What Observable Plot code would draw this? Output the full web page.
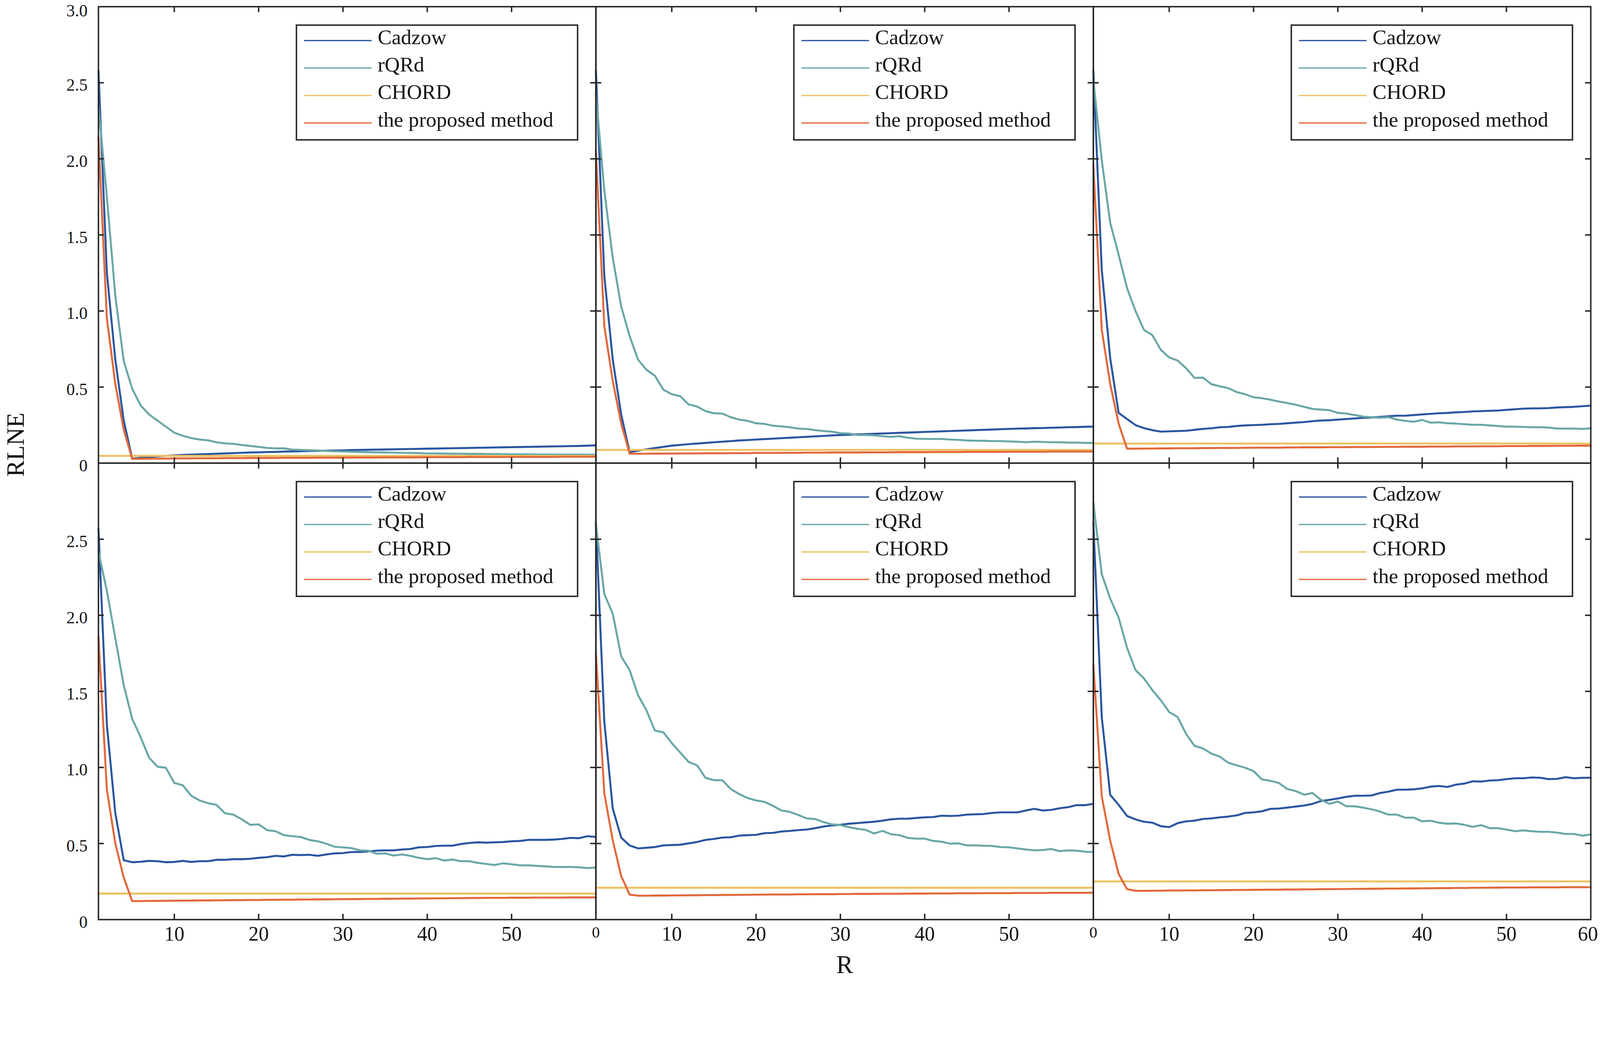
<!DOCTYPE html>
<html>
<head>
<meta charset="utf-8">
<script src="https://cdn.jsdelivr.net/npm/d3@7"></script>
<script src="https://cdn.jsdelivr.net/npm/@observablehq/plot@0.6"></script>
<style>
  html, body { margin: 0; padding: 0; background: #ffffff; overflow: hidden; }
  #chart svg { display: block; }
</style>
</head>
<body>
<div id="chart"></div>
<script>
// ---------- data ----------
const R = d3.range(1, 61);
const seriesNames = ["Cadzow", "rQRd", "CHORD", "the proposed method"];
const seriesColors = ["#2a56a0", "#6aa7a8", "#ebc163", "#e2683c"];
const panelCols = [0, 1, 2, 0, 1, 2];
const panelRows = [0, 0, 0, 1, 1, 1];
const xAxisTitle = "R";
const yAxisTitle = "RLNE";

const xTickValues = [10, 20, 30, 40, 50];
const xTickLabels = ["10", "20", "30", "40", "50"];
const xStartLabel = "0";
const xEndLabel = "60";
const yTickValues = [0, 0.5, 1, 1.5, 2, 2.5, 3];
const yTickLabels = ["0", "0.5", "1.0", "1.5", "2.0", "2.5", "3.0"];

// CHORD is flat in every panel
const chord = [0.048, 0.087, 0.129, 0.171, 0.209, 0.251];

const cadzow1 = [
  2.58, 1.25, 0.68, 0.28, 0.030, 0.035, 0.040, 0.045, 0.048, 0.051,
  0.054, 0.056, 0.058, 0.060, 0.062, 0.064, 0.066, 0.068, 0.070, 0.071,
  0.073, 0.074, 0.076, 0.077, 0.078, 0.080, 0.081, 0.082, 0.083, 0.084,
  0.086, 0.087, 0.088, 0.089, 0.090, 0.091, 0.092, 0.093, 0.094, 0.095,
  0.096, 0.097, 0.098, 0.099, 0.100, 0.101, 0.102, 0.103, 0.104, 0.105,
  0.106, 0.107, 0.108, 0.109, 0.110, 0.111, 0.112, 0.113, 0.115, 0.117];
const rqrd1 = [
  2.35, 1.75, 1.10, 0.67, 0.49, 0.38, 0.32, 0.28, 0.24, 0.20,
  0.18, 0.165, 0.155, 0.15, 0.137, 0.13, 0.127, 0.119, 0.113, 0.107,
  0.100, 0.097, 0.097, 0.089, 0.087, 0.085, 0.083, 0.080, 0.078, 0.076,
  0.075, 0.073, 0.072, 0.071, 0.070, 0.069, 0.068, 0.067, 0.066, 0.064,
  0.064, 0.063, 0.062, 0.062, 0.061, 0.061, 0.060, 0.060, 0.059, 0.058,
  0.058, 0.058, 0.057, 0.057, 0.057, 0.056, 0.056, 0.056, 0.056, 0.055];
const proposed1 = [
  2.14, 0.95, 0.52, 0.22, 0.028, 0.029, 0.029, 0.030, 0.030, 0.031,
  0.031, 0.031, 0.032, 0.032, 0.032, 0.033, 0.033, 0.033, 0.034, 0.034,
  0.034, 0.034, 0.035, 0.035, 0.035, 0.035, 0.036, 0.036, 0.036, 0.036,
  0.037, 0.037, 0.037, 0.037, 0.038, 0.038, 0.038, 0.038, 0.038, 0.039,
  0.039, 0.039, 0.039, 0.039, 0.040, 0.040, 0.040, 0.040, 0.040, 0.041,
  0.041, 0.041, 0.041, 0.041, 0.041, 0.042, 0.042, 0.042, 0.042, 0.042];

const cadzow2 = [
  2.58, 1.23, 0.68, 0.32, 0.072, 0.082, 0.091, 0.099, 0.107, 0.115,
  0.120, 0.125, 0.129, 0.133, 0.137, 0.141, 0.145, 0.149, 0.152, 0.155,
  0.158, 0.161, 0.164, 0.167, 0.170, 0.173, 0.176, 0.179, 0.182, 0.185,
  0.187, 0.189, 0.191, 0.193, 0.195, 0.197, 0.199, 0.201, 0.203, 0.205,
  0.207, 0.209, 0.211, 0.213, 0.215, 0.217, 0.219, 0.221, 0.223, 0.225,
  0.227, 0.228, 0.230, 0.231, 0.233, 0.234, 0.236, 0.237, 0.239, 0.240];
const rqrd2 = [
  2.43, 1.79, 1.35, 1.03, 0.835, 0.68, 0.614, 0.574, 0.483, 0.453,
  0.44, 0.386, 0.372, 0.342, 0.328, 0.326, 0.302, 0.286, 0.278, 0.262,
  0.258, 0.246, 0.242, 0.236, 0.227, 0.225, 0.217, 0.211, 0.207, 0.197,
  0.195, 0.185, 0.185, 0.183, 0.177, 0.173, 0.177, 0.167, 0.161, 0.159,
  0.159, 0.159, 0.155, 0.153, 0.149, 0.147, 0.147, 0.145, 0.145, 0.143,
  0.141, 0.137, 0.141, 0.139, 0.137, 0.137, 0.135, 0.135, 0.133, 0.133];
const proposed2 = [
  2.05, 0.90, 0.54, 0.26, 0.062, 0.062, 0.062, 0.063, 0.063, 0.063,
  0.064, 0.064, 0.064, 0.065, 0.065, 0.065, 0.066, 0.066, 0.066, 0.067,
  0.067, 0.067, 0.068, 0.068, 0.068, 0.069, 0.069, 0.069, 0.070, 0.070,
  0.070, 0.070, 0.071, 0.071, 0.071, 0.071, 0.072, 0.072, 0.072, 0.072,
  0.073, 0.073, 0.073, 0.073, 0.074, 0.074, 0.074, 0.074, 0.074, 0.075,
  0.075, 0.075, 0.075, 0.075, 0.076, 0.076, 0.076, 0.076, 0.076, 0.076];

const cadzow3 = [
  2.58, 1.27, 0.69, 0.33, 0.29, 0.25, 0.23, 0.217, 0.207, 0.209,
  0.211, 0.213, 0.219, 0.225, 0.229, 0.236, 0.238, 0.244, 0.248, 0.250,
  0.252, 0.256, 0.258, 0.262, 0.266, 0.270, 0.276, 0.280, 0.282, 0.286,
  0.290, 0.294, 0.298, 0.300, 0.304, 0.308, 0.312, 0.312, 0.316, 0.320,
  0.324, 0.328, 0.330, 0.334, 0.336, 0.340, 0.342, 0.344, 0.346, 0.350,
  0.354, 0.358, 0.360, 0.360, 0.362, 0.366, 0.368, 0.370, 0.374, 0.378];
const rqrd3 = [
  2.52, 1.99, 1.58, 1.37, 1.15, 1.00, 0.876, 0.841, 0.745, 0.694,
  0.674, 0.624, 0.560, 0.562, 0.519, 0.505, 0.493, 0.467, 0.453, 0.433,
  0.427, 0.417, 0.405, 0.395, 0.384, 0.370, 0.356, 0.352, 0.348, 0.330,
  0.326, 0.316, 0.306, 0.302, 0.298, 0.302, 0.286, 0.278, 0.272, 0.284,
  0.266, 0.268, 0.262, 0.260, 0.256, 0.252, 0.252, 0.248, 0.244, 0.240,
  0.240, 0.238, 0.236, 0.236, 0.234, 0.227, 0.227, 0.227, 0.225, 0.229];
const proposed3 = [
  1.96, 0.876, 0.52, 0.26, 0.095, 0.095, 0.096, 0.096, 0.097, 0.097,
  0.098, 0.098, 0.098, 0.099, 0.099, 0.100, 0.100, 0.100, 0.101, 0.101,
  0.102, 0.102, 0.102, 0.103, 0.103, 0.104, 0.104, 0.104, 0.105, 0.105,
  0.105, 0.106, 0.106, 0.106, 0.107, 0.107, 0.107, 0.108, 0.108, 0.108,
  0.109, 0.109, 0.109, 0.110, 0.110, 0.110, 0.111, 0.111, 0.111, 0.112,
  0.112, 0.112, 0.113, 0.113, 0.113, 0.114, 0.114, 0.114, 0.115, 0.115];

const cadzow4 = [
  2.57, 1.28, 0.70, 0.39, 0.377, 0.380, 0.386, 0.384, 0.377, 0.379,
  0.386, 0.379, 0.384, 0.384, 0.393, 0.393, 0.397, 0.397, 0.400, 0.406,
  0.410, 0.419, 0.415, 0.426, 0.424, 0.426, 0.419, 0.428, 0.435, 0.437,
  0.444, 0.444, 0.448, 0.453, 0.455, 0.455, 0.461, 0.464, 0.475, 0.477,
  0.484, 0.486, 0.486, 0.497, 0.504, 0.508, 0.506, 0.508, 0.510, 0.515,
  0.517, 0.524, 0.524, 0.524, 0.526, 0.530, 0.537, 0.535, 0.548, 0.543];
const rqrd4 = [
  2.42, 2.16, 1.85, 1.54, 1.32, 1.20, 1.065, 1.005, 0.998, 0.898,
  0.883, 0.814, 0.783, 0.765, 0.754, 0.699, 0.690, 0.659, 0.623, 0.626,
  0.588, 0.581, 0.555, 0.548, 0.543, 0.524, 0.515, 0.499, 0.479, 0.475,
  0.470, 0.455, 0.453, 0.433, 0.435, 0.421, 0.428, 0.419, 0.406, 0.397,
  0.404, 0.388, 0.395, 0.384, 0.384, 0.373, 0.366, 0.359, 0.370, 0.364,
  0.357, 0.357, 0.353, 0.350, 0.346, 0.346, 0.346, 0.344, 0.339, 0.342];
const proposed4 = [
  1.86, 0.854, 0.50, 0.277, 0.122, 0.122, 0.123, 0.123, 0.124, 0.124,
  0.125, 0.125, 0.126, 0.126, 0.127, 0.127, 0.128, 0.128, 0.129, 0.129,
  0.130, 0.130, 0.131, 0.131, 0.132, 0.132, 0.133, 0.133, 0.134, 0.134,
  0.135, 0.135, 0.136, 0.136, 0.137, 0.137, 0.138, 0.138, 0.139, 0.139,
  0.140, 0.140, 0.141, 0.141, 0.142, 0.142, 0.143, 0.143, 0.143, 0.144,
  0.144, 0.144, 0.145, 0.145, 0.145, 0.145, 0.146, 0.146, 0.146, 0.146];

const cadzow5 = [
  2.61, 1.30, 0.73, 0.539, 0.487, 0.468, 0.472, 0.477, 0.488, 0.490,
  0.492, 0.501, 0.510, 0.524, 0.530, 0.539, 0.541, 0.552, 0.555, 0.557,
  0.568, 0.570, 0.579, 0.583, 0.588, 0.592, 0.601, 0.612, 0.619, 0.623,
  0.630, 0.634, 0.639, 0.643, 0.650, 0.659, 0.663, 0.663, 0.668, 0.672,
  0.674, 0.683, 0.681, 0.683, 0.690, 0.692, 0.694, 0.701, 0.705, 0.705,
  0.705, 0.717, 0.728, 0.717, 0.721, 0.732, 0.739, 0.752, 0.752, 0.761];
const rqrd5 = [
  2.60, 2.14, 2.01, 1.73, 1.64, 1.475, 1.375, 1.242, 1.231, 1.16,
  1.098, 1.036, 1.014, 0.932, 0.916, 0.916, 0.858, 0.825, 0.799, 0.783,
  0.774, 0.748, 0.717, 0.708, 0.688, 0.665, 0.661, 0.641, 0.626, 0.621,
  0.608, 0.597, 0.590, 0.566, 0.583, 0.561, 0.555, 0.537, 0.532, 0.532,
  0.517, 0.512, 0.499, 0.501, 0.488, 0.488, 0.486, 0.484, 0.477, 0.475,
  0.468, 0.461, 0.455, 0.457, 0.464, 0.450, 0.455, 0.453, 0.446, 0.444];
const proposed5 = [
  1.75, 0.83, 0.52, 0.287, 0.164, 0.157, 0.157, 0.158, 0.158, 0.159,
  0.159, 0.160, 0.160, 0.161, 0.161, 0.162, 0.162, 0.163, 0.163, 0.164,
  0.164, 0.165, 0.165, 0.165, 0.166, 0.166, 0.167, 0.167, 0.167, 0.168,
  0.168, 0.169, 0.169, 0.169, 0.170, 0.170, 0.170, 0.171, 0.171, 0.171,
  0.172, 0.172, 0.172, 0.173, 0.173, 0.173, 0.174, 0.174, 0.174, 0.174,
  0.175, 0.175, 0.175, 0.175, 0.176, 0.176, 0.176, 0.176, 0.176, 0.177];

const cadzow6 = [
  2.61, 1.33, 0.82, 0.754, 0.681, 0.659, 0.643, 0.637, 0.614, 0.608,
  0.634, 0.646, 0.650, 0.661, 0.665, 0.672, 0.677, 0.685, 0.701, 0.705,
  0.712, 0.728, 0.730, 0.736, 0.743, 0.750, 0.761, 0.779, 0.787, 0.796,
  0.807, 0.814, 0.814, 0.816, 0.832, 0.841, 0.854, 0.854, 0.856, 0.863,
  0.874, 0.878, 0.872, 0.887, 0.894, 0.909, 0.907, 0.914, 0.916, 0.923,
  0.929, 0.929, 0.934, 0.932, 0.923, 0.925, 0.936, 0.929, 0.932, 0.932];
const rqrd6 = [
  2.74, 2.27, 2.11, 1.985, 1.786, 1.64, 1.585, 1.508, 1.442, 1.364,
  1.331, 1.22, 1.142, 1.125, 1.091, 1.071, 1.031, 1.014, 0.998, 0.976,
  0.921, 0.912, 0.898, 0.858, 0.845, 0.821, 0.832, 0.787, 0.761, 0.776,
  0.745, 0.745, 0.736, 0.725, 0.710, 0.690, 0.690, 0.670, 0.670, 0.646,
  0.650, 0.637, 0.630, 0.632, 0.623, 0.610, 0.621, 0.601, 0.601, 0.592,
  0.581, 0.586, 0.581, 0.577, 0.577, 0.572, 0.563, 0.563, 0.552, 0.559];
const proposed6 = [
  1.68, 0.81, 0.52, 0.30, 0.200, 0.189, 0.189, 0.190, 0.190, 0.191,
  0.191, 0.192, 0.192, 0.193, 0.193, 0.194, 0.194, 0.195, 0.195, 0.196,
  0.196, 0.197, 0.197, 0.198, 0.198, 0.199, 0.199, 0.200, 0.200, 0.201,
  0.201, 0.202, 0.202, 0.203, 0.203, 0.204, 0.204, 0.205, 0.205, 0.206,
  0.206, 0.207, 0.207, 0.208, 0.208, 0.209, 0.209, 0.210, 0.210, 0.211,
  0.211, 0.211, 0.212, 0.212, 0.212, 0.212, 0.213, 0.213, 0.213, 0.213];

// ---------- build tables ----------
const cadzowAll = [cadzow1, cadzow2, cadzow3, cadzow4, cadzow5, cadzow6];
const rqrdAll = [rqrd1, rqrd2, rqrd3, rqrd4, rqrd5, rqrd6];
const proposedAll = [proposed1, proposed2, proposed3, proposed4, proposed5, proposed6];

function seriesRows(all, name) {
  const rows = [];
  all.forEach((arr, p) => {
    arr.forEach((v, i) => rows.push({col: panelCols[p], row: panelRows[p], series: name, R: R[i], value: v}));
  });
  return rows;
}
const cadzowRows = seriesRows(cadzowAll, seriesNames[0]);
const rqrdRows = seriesRows(rqrdAll, seriesNames[1]);
const proposedRows = seriesRows(proposedAll, seriesNames[3]);
const chordRows = chord.map((v, p) => ({col: panelCols[p], row: panelRows[p], value: v}));

const xLabelRows = [];
[0, 1, 2].forEach(c => xTickValues.forEach((v, i) => xLabelRows.push({col: c, row: 1, x: v, label: xTickLabels[i]})));
const xEndRows = [{col: 2, row: 1, x: d3.max(R), label: xEndLabel}];
const xStartRows = [1, 2].map(c => ({col: c, row: 1, x: d3.min(R), label: xStartLabel}));
const yLabelRows = [];
yTickValues.slice(0, -1).forEach((v, i) => yLabelRows.push({col: 0, row: 0, y: v, label: yTickLabels[i]}));
yTickValues.slice(0, -1).forEach((v, i) => yLabelRows.push({col: 0, row: 1, y: v, label: yTickLabels[i]}));
const yTopRows = [{col: 0, row: 0, y: yTickValues[yTickValues.length - 1], label: yTickLabels[yTickLabels.length - 1]}];
const innerY = yTickValues.slice(1, -1);

// ---------- layout ----------
const W = 4429, H = 2715;
const ML = 271, MR = 25, MT = 17, MB = 171;
const FW = (W - ML - MR) / 3, FH = (H - MT - MB) / 2;
const TL = 16;              // tick length
const INK = "#262626";
const TXT = "#141414";
const FONT = "Liberation Serif, Times New Roman, serif";
const LW = 5.5;             // data line width

// legend geometry inside each panel (px from panel top-left)
const LG = {left: 548, top: 51, w: 779, h: 318, lineX1: 569, lineX2: 757, textX: 773, firstY: 94, step: 76};

const legendMarks = [
  Plot.frame({fill: "white", stroke: INK, strokeWidth: 4,
    insetLeft: LG.left, insetRight: FW - LG.left - LG.w,
    insetTop: LG.top, insetBottom: FH - LG.top - LG.h})
];
seriesNames.forEach((name, i) => {
  const ly = LG.firstY + LG.step * i;
  legendMarks.push(Plot.frame({fill: seriesColors[i], stroke: "none",
    insetLeft: LG.lineX1, insetRight: FW - LG.lineX2,
    insetTop: ly - 2, insetBottom: FH - ly - 2}));
  legendMarks.push(Plot.text([name], {text: d => d, frameAnchor: "top-left",
    dx: LG.textX, dy: ly - 9, textAnchor: "start", lineAnchor: "middle",
    fontSize: 58, fill: TXT}));
});

const chart = Plot.plot({
  width: W, height: H,
  marginLeft: ML, marginRight: MR, marginTop: MT, marginBottom: MB,
  style: {fontFamily: FONT, background: "white", color: INK},
  fx: {domain: [0, 1, 2], padding: 0, axis: null},
  fy: {domain: [0, 1], padding: 0, axis: null},
  x: {domain: [1, 60], axis: null},
  y: {domain: [0, 3], axis: null},
  marks: [
    Plot.line(cadzowRows, {fx: "col", fy: "row", x: "R", y: "value", stroke: seriesColors[0], strokeWidth: LW}),
    Plot.line(rqrdRows, {fx: "col", fy: "row", x: "R", y: "value", stroke: seriesColors[1], strokeWidth: LW}),
    Plot.ruleY(chordRows, {fx: "col", fy: "row", y: "value", stroke: seriesColors[2], strokeWidth: LW}),
    Plot.line(proposedRows, {fx: "col", fy: "row", x: "R", y: "value", stroke: seriesColors[3], strokeWidth: LW}),
    // inward ticks on all four sides of each panel
    Plot.tickX(xTickValues, {x: d => d, insetTop: FH - TL, stroke: INK, strokeWidth: 4}),
    Plot.tickX(xTickValues, {x: d => d, insetBottom: FH - TL, stroke: INK, strokeWidth: 4}),
    Plot.tickY(innerY, {y: d => d, insetRight: FW - TL, stroke: INK, strokeWidth: 4}),
    Plot.tickY(innerY, {y: d => d, insetLeft: FW - TL, stroke: INK, strokeWidth: 4}),
    ...legendMarks,
    Plot.frame({stroke: INK, strokeWidth: 4}),
    // tick labels
    Plot.text(xLabelRows, {fx: "col", fy: "row", x: "x", text: "label", frameAnchor: "bottom",
      dy: 40, lineAnchor: "middle", fontSize: 56, fill: TXT}),
    Plot.text(xEndRows, {fx: "col", fy: "row", x: "x", text: "label", frameAnchor: "bottom",
      dy: 40, dx: 20, textAnchor: "end", lineAnchor: "middle", fontSize: 56, fill: TXT}),
    Plot.text(xStartRows, {fx: "col", fy: "row", x: "x", text: "label", frameAnchor: "bottom",
      dy: 35, lineAnchor: "middle", fontSize: 44, fill: TXT}),
    Plot.text(yLabelRows, {fx: "col", fy: "row", y: "y", text: "label", frameAnchor: "left",
      dx: -30, dy: 7, textAnchor: "end", lineAnchor: "middle", fontSize: 47, fill: TXT}),
    Plot.text(yTopRows, {fx: "col", fy: "row", y: "y", text: "label", frameAnchor: "left",
      dx: -30, dy: 12, textAnchor: "end", lineAnchor: "middle", fontSize: 47, fill: TXT}),
    // axis titles
    Plot.text([xAxisTitle], {fx: () => 1, fy: () => 1, text: d => d, frameAnchor: "bottom",
      dy: 126, textAnchor: "middle", lineAnchor: "middle", fontSize: 70, fill: TXT}),
    Plot.text([yAxisTitle], {fx: () => 0, fy: () => 0, text: d => d, frameAnchor: "bottom-left",
      dx: -228, dy: -51, rotate: -90, textAnchor: "middle", lineAnchor: "middle", fontSize: 68, fill: TXT})
  ]
});
document.getElementById("chart").appendChild(chart);
</script>
</body>
</html>
